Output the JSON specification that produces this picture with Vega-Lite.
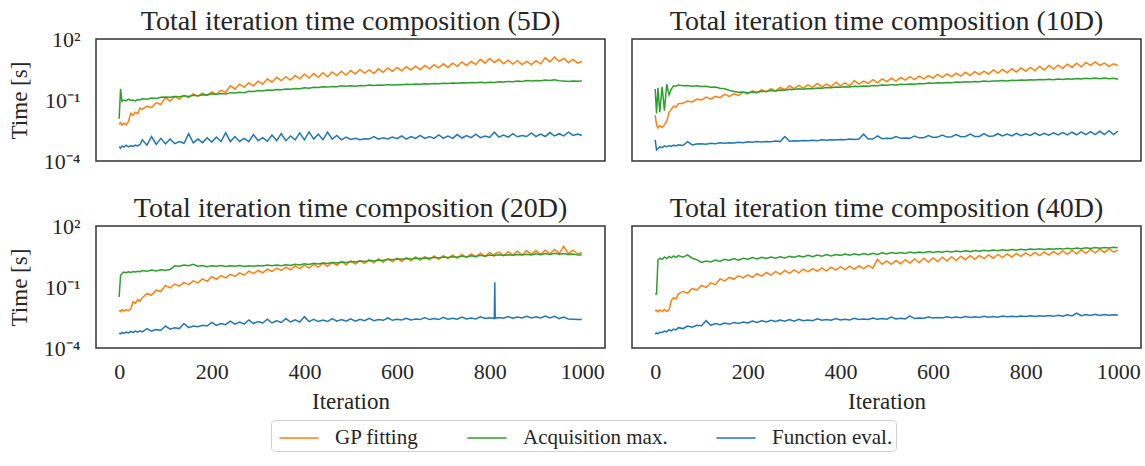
{
"$schema": "https://vega.github.io/schema/vega-lite/v6.json",
"background": "white",
"padding": {"left": 8, "top": 7, "right": 5, "bottom": 5},
"data": {"values": [
{"p":"5D","x":0,"g":0.0065,"a":0.012,"f":0.0005},
{"p":"5D","x":3,"g":0.0078,"a":0.35,"f":0.00042},
{"p":"5D","x":6,"g":0.0058,"a":0.085,"f":0.00055},
{"p":"5D","x":10,"g":0.0072,"a":0.1,"f":0.00048},
{"p":"5D","x":15,"g":0.0061,"a":0.09,"f":0.0006},
{"p":"5D","x":20,"g":0.0085,"a":0.11,"f":0.0005},
{"p":"5D","x":25,"g":0.022,"a":0.095,"f":0.00058},
{"p":"5D","x":30,"g":0.018,"a":0.1,"f":0.00052},
{"p":"5D","x":35,"g":0.025,"a":0.09,"f":0.0006},
{"p":"5D","x":40,"g":0.021,"a":0.105,"f":0.00055},
{"p":"5D","x":45,"g":0.04,"a":0.1,"f":0.00065},
{"p":"5D","x":50,"g":0.035,"a":0.115,"f":0.0011},
{"p":"5D","x":60,"g":0.05,"a":0.11,"f":0.0006},
{"p":"5D","x":70,"g":0.042,"a":0.125,"f":0.0016},
{"p":"5D","x":80,"g":0.075,"a":0.12,"f":0.00065},
{"p":"5D","x":90,"g":0.06,"a":0.135,"f":0.0013},
{"p":"5D","x":100,"g":0.13,"a":0.14,"f":0.0007},
{"p":"5D","x":110,"g":0.09,"a":0.135,"f":0.0012},
{"p":"5D","x":120,"g":0.15,"a":0.15,"f":0.00072},
{"p":"5D","x":130,"g":0.11,"a":0.145,"f":0.0009},
{"p":"5D","x":140,"g":0.17,"a":0.16,"f":0.00075},
{"p":"5D","x":150,"g":0.13,"a":0.15,"f":0.0022},
{"p":"5D","x":160,"g":0.2,"a":0.17,"f":0.00078},
{"p":"5D","x":170,"g":0.15,"a":0.16,"f":0.0012},
{"p":"5D","x":180,"g":0.22,"a":0.18,"f":0.0008},
{"p":"5D","x":190,"g":0.17,"a":0.175,"f":0.0014},
{"p":"5D","x":200,"g":0.25,"a":0.2,"f":0.00085},
{"p":"5D","x":210,"g":0.19,"a":0.19,"f":0.0015},
{"p":"5D","x":220,"g":0.3,"a":0.21,"f":0.0009},
{"p":"5D","x":230,"g":0.24,"a":0.2,"f":0.0025},
{"p":"5D","x":240,"g":0.5,"a":0.23,"f":0.0009},
{"p":"5D","x":250,"g":0.35,"a":0.22,"f":0.0016},
{"p":"5D","x":260,"g":0.6,"a":0.24,"f":0.00092},
{"p":"5D","x":270,"g":0.42,"a":0.23,"f":0.0013},
{"p":"5D","x":280,"g":0.7,"a":0.27,"f":0.0009},
{"p":"5D","x":290,"g":0.5,"a":0.26,"f":0.002},
{"p":"5D","x":300,"g":0.85,"a":0.29,"f":0.001},
{"p":"5D","x":310,"g":0.6,"a":0.28,"f":0.0014},
{"p":"5D","x":320,"g":1.1,"a":0.31,"f":0.00095},
{"p":"5D","x":330,"g":0.75,"a":0.3,"f":0.0019},
{"p":"5D","x":340,"g":1.3,"a":0.33,"f":0.001},
{"p":"5D","x":350,"g":0.9,"a":0.32,"f":0.0022},
{"p":"5D","x":360,"g":1.4,"a":0.35,"f":0.001},
{"p":"5D","x":370,"g":0.95,"a":0.34,"f":0.0017},
{"p":"5D","x":380,"g":1.6,"a":0.37,"f":0.0011},
{"p":"5D","x":390,"g":1.1,"a":0.36,"f":0.0024},
{"p":"5D","x":400,"g":1.9,"a":0.4,"f":0.0011},
{"p":"5D","x":410,"g":1.2,"a":0.38,"f":0.0027},
{"p":"5D","x":420,"g":2.0,"a":0.42,"f":0.0012},
{"p":"5D","x":430,"g":1.3,"a":0.41,"f":0.0021},
{"p":"5D","x":440,"g":2.2,"a":0.45,"f":0.0011},
{"p":"5D","x":450,"g":1.4,"a":0.43,"f":0.0026},
{"p":"5D","x":460,"g":2.4,"a":0.46,"f":0.0012},
{"p":"5D","x":470,"g":1.6,"a":0.45,"f":0.0018},
{"p":"5D","x":480,"g":2.6,"a":0.5,"f":0.0011},
{"p":"5D","x":490,"g":1.7,"a":0.47,"f":0.0015},
{"p":"5D","x":500,"g":2.8,"a":0.5,"f":0.00115},
{"p":"5D","x":510,"g":1.9,"a":0.48,"f":0.0013},
{"p":"5D","x":520,"g":3.2,"a":0.52,"f":0.0011},
{"p":"5D","x":530,"g":2.1,"a":0.5,"f":0.00125},
{"p":"5D","x":540,"g":3.0,"a":0.54,"f":0.0012},
{"p":"5D","x":550,"g":2.0,"a":0.52,"f":0.0016},
{"p":"5D","x":560,"g":3.4,"a":0.55,"f":0.00118},
{"p":"5D","x":570,"g":2.3,"a":0.53,"f":0.0014},
{"p":"5D","x":580,"g":3.8,"a":0.57,"f":0.0012},
{"p":"5D","x":590,"g":2.6,"a":0.55,"f":0.0015},
{"p":"5D","x":600,"g":4.0,"a":0.57,"f":0.00125},
{"p":"5D","x":610,"g":2.7,"a":0.56,"f":0.0017},
{"p":"5D","x":620,"g":4.3,"a":0.6,"f":0.0012},
{"p":"5D","x":630,"g":3.0,"a":0.58,"f":0.0016},
{"p":"5D","x":640,"g":4.6,"a":0.62,"f":0.00128},
{"p":"5D","x":650,"g":3.1,"a":0.6,"f":0.0018},
{"p":"5D","x":660,"g":5.0,"a":0.63,"f":0.0013},
{"p":"5D","x":670,"g":3.4,"a":0.61,"f":0.0016},
{"p":"5D","x":680,"g":5.5,"a":0.65,"f":0.0013},
{"p":"5D","x":690,"g":3.8,"a":0.63,"f":0.0019},
{"p":"5D","x":700,"g":6.0,"a":0.66,"f":0.00132},
{"p":"5D","x":710,"g":4.0,"a":0.64,"f":0.0017},
{"p":"5D","x":720,"g":6.5,"a":0.68,"f":0.0013},
{"p":"5D","x":730,"g":4.5,"a":0.66,"f":0.002},
{"p":"5D","x":740,"g":7.5,"a":0.7,"f":0.00135},
{"p":"5D","x":750,"g":5.0,"a":0.68,"f":0.0018},
{"p":"5D","x":760,"g":8.0,"a":0.72,"f":0.0014},
{"p":"5D","x":770,"g":5.5,"a":0.7,"f":0.0021},
{"p":"5D","x":780,"g":10,"a":0.74,"f":0.0014},
{"p":"5D","x":790,"g":6.5,"a":0.71,"f":0.0017},
{"p":"5D","x":800,"g":11,"a":0.75,"f":0.00145},
{"p":"5D","x":810,"g":7,"a":0.73,"f":0.0026},
{"p":"5D","x":820,"g":10,"a":0.78,"f":0.0015},
{"p":"5D","x":830,"g":6,"a":0.76,"f":0.0019},
{"p":"5D","x":840,"g":9,"a":0.82,"f":0.0015},
{"p":"5D","x":850,"g":5.8,"a":0.8,"f":0.0022},
{"p":"5D","x":860,"g":8.5,"a":0.85,"f":0.00155},
{"p":"5D","x":870,"g":5.5,"a":0.82,"f":0.0018},
{"p":"5D","x":880,"g":8,"a":0.9,"f":0.0016},
{"p":"5D","x":890,"g":5.5,"a":0.86,"f":0.0024},
{"p":"5D","x":900,"g":8.5,"a":0.92,"f":0.0016},
{"p":"5D","x":910,"g":6,"a":0.88,"f":0.0021},
{"p":"5D","x":920,"g":12,"a":0.95,"f":0.0016},
{"p":"5D","x":930,"g":7.5,"a":0.9,"f":0.0025},
{"p":"5D","x":940,"g":13,"a":0.98,"f":0.0017},
{"p":"5D","x":950,"g":8,"a":0.88,"f":0.0022},
{"p":"5D","x":960,"g":11,"a":0.85,"f":0.0017},
{"p":"5D","x":970,"g":7,"a":0.82,"f":0.0026},
{"p":"5D","x":980,"g":10,"a":0.87,"f":0.0018},
{"p":"5D","x":990,"g":6.5,"a":0.83,"f":0.0021},
{"p":"5D","x":999,"g":8,"a":0.86,"f":0.0018},
{"p":"10D","x":0,"g":0.018,"a":0.35,"f":0.0011},
{"p":"10D","x":3,"g":0.006,"a":0.022,"f":0.00035},
{"p":"10D","x":6,"g":0.0042,"a":0.4,"f":0.0004},
{"p":"10D","x":10,"g":0.0055,"a":0.025,"f":0.0005},
{"p":"10D","x":15,"g":0.0045,"a":0.45,"f":0.00045},
{"p":"10D","x":20,"g":0.006,"a":0.03,"f":0.00055},
{"p":"10D","x":25,"g":0.009,"a":0.6,"f":0.0005},
{"p":"10D","x":30,"g":0.025,"a":0.18,"f":0.00058},
{"p":"10D","x":35,"g":0.035,"a":0.35,"f":0.00052},
{"p":"10D","x":40,"g":0.05,"a":0.5,"f":0.0006},
{"p":"10D","x":45,"g":0.045,"a":0.48,"f":0.00055},
{"p":"10D","x":50,"g":0.065,"a":0.55,"f":0.00062},
{"p":"10D","x":60,"g":0.07,"a":0.5,"f":0.00058},
{"p":"10D","x":70,"g":0.09,"a":0.52,"f":0.0009},
{"p":"10D","x":80,"g":0.08,"a":0.48,"f":0.00062},
{"p":"10D","x":90,"g":0.11,"a":0.5,"f":0.00068},
{"p":"10D","x":100,"g":0.1,"a":0.46,"f":0.0007},
{"p":"10D","x":110,"g":0.14,"a":0.47,"f":0.00066},
{"p":"10D","x":120,"g":0.11,"a":0.42,"f":0.00074},
{"p":"10D","x":130,"g":0.15,"a":0.43,"f":0.0007},
{"p":"10D","x":140,"g":0.13,"a":0.38,"f":0.00078},
{"p":"10D","x":150,"g":0.19,"a":0.36,"f":0.00074},
{"p":"10D","x":160,"g":0.15,"a":0.3,"f":0.0008},
{"p":"10D","x":170,"g":0.2,"a":0.26,"f":0.00076},
{"p":"10D","x":180,"g":0.17,"a":0.24,"f":0.00084},
{"p":"10D","x":190,"g":0.24,"a":0.25,"f":0.0008},
{"p":"10D","x":200,"g":0.2,"a":0.23,"f":0.00088},
{"p":"10D","x":210,"g":0.28,"a":0.25,"f":0.00084},
{"p":"10D","x":220,"g":0.22,"a":0.24,"f":0.0009},
{"p":"10D","x":230,"g":0.32,"a":0.27,"f":0.00086},
{"p":"10D","x":240,"g":0.25,"a":0.26,"f":0.00092},
{"p":"10D","x":250,"g":0.36,"a":0.29,"f":0.00088},
{"p":"10D","x":260,"g":0.28,"a":0.28,"f":0.00095},
{"p":"10D","x":270,"g":0.42,"a":0.31,"f":0.0009},
{"p":"10D","x":280,"g":0.32,"a":0.3,"f":0.0016},
{"p":"10D","x":290,"g":0.5,"a":0.34,"f":0.00094},
{"p":"10D","x":300,"g":0.36,"a":0.33,"f":0.001},
{"p":"10D","x":310,"g":0.52,"a":0.36,"f":0.00096},
{"p":"10D","x":320,"g":0.38,"a":0.34,"f":0.00102},
{"p":"10D","x":330,"g":0.55,"a":0.37,"f":0.00098},
{"p":"10D","x":340,"g":0.42,"a":0.36,"f":0.00105},
{"p":"10D","x":350,"g":0.65,"a":0.39,"f":0.001},
{"p":"10D","x":360,"g":0.44,"a":0.38,"f":0.0011},
{"p":"10D","x":370,"g":0.6,"a":0.41,"f":0.00104},
{"p":"10D","x":380,"g":0.45,"a":0.4,"f":0.0011},
{"p":"10D","x":390,"g":0.75,"a":0.43,"f":0.00108},
{"p":"10D","x":400,"g":0.5,"a":0.42,"f":0.00115},
{"p":"10D","x":410,"g":0.7,"a":0.45,"f":0.0011},
{"p":"10D","x":420,"g":0.5,"a":0.44,"f":0.0012},
{"p":"10D","x":430,"g":0.9,"a":0.47,"f":0.00114},
{"p":"10D","x":440,"g":0.6,"a":0.46,"f":0.0012},
{"p":"10D","x":450,"g":0.85,"a":0.49,"f":0.0021},
{"p":"10D","x":460,"g":0.65,"a":0.48,"f":0.00122},
{"p":"10D","x":470,"g":1.0,"a":0.51,"f":0.0012},
{"p":"10D","x":480,"g":0.7,"a":0.5,"f":0.0017},
{"p":"10D","x":490,"g":1.1,"a":0.54,"f":0.00125},
{"p":"10D","x":500,"g":0.8,"a":0.53,"f":0.0013},
{"p":"10D","x":510,"g":1.2,"a":0.57,"f":0.00128},
{"p":"10D","x":520,"g":0.85,"a":0.55,"f":0.0016},
{"p":"10D","x":530,"g":1.3,"a":0.59,"f":0.0013},
{"p":"10D","x":540,"g":0.95,"a":0.58,"f":0.00135},
{"p":"10D","x":550,"g":1.4,"a":0.62,"f":0.0013},
{"p":"10D","x":560,"g":1.0,"a":0.6,"f":0.0017},
{"p":"10D","x":570,"g":1.5,"a":0.65,"f":0.00138},
{"p":"10D","x":580,"g":1.1,"a":0.63,"f":0.0014},
{"p":"10D","x":590,"g":1.6,"a":0.68,"f":0.0018},
{"p":"10D","x":600,"g":1.2,"a":0.66,"f":0.00145},
{"p":"10D","x":610,"g":1.8,"a":0.7,"f":0.0015},
{"p":"10D","x":620,"g":1.3,"a":0.68,"f":0.0019},
{"p":"10D","x":630,"g":1.9,"a":0.73,"f":0.0015},
{"p":"10D","x":640,"g":1.4,"a":0.71,"f":0.00155},
{"p":"10D","x":650,"g":2.1,"a":0.76,"f":0.002},
{"p":"10D","x":660,"g":1.5,"a":0.74,"f":0.00155},
{"p":"10D","x":670,"g":2.3,"a":0.79,"f":0.0016},
{"p":"10D","x":680,"g":1.6,"a":0.77,"f":0.0021},
{"p":"10D","x":690,"g":2.5,"a":0.82,"f":0.0016},
{"p":"10D","x":700,"g":1.8,"a":0.8,"f":0.00162},
{"p":"10D","x":710,"g":2.6,"a":0.85,"f":0.0022},
{"p":"10D","x":720,"g":1.9,"a":0.82,"f":0.00165},
{"p":"10D","x":730,"g":3.0,"a":0.87,"f":0.0017},
{"p":"10D","x":740,"g":2.1,"a":0.85,"f":0.0022},
{"p":"10D","x":750,"g":3.2,"a":0.9,"f":0.0017},
{"p":"10D","x":760,"g":2.2,"a":0.87,"f":0.0021},
{"p":"10D","x":770,"g":3.5,"a":0.93,"f":0.00172},
{"p":"10D","x":780,"g":2.4,"a":0.9,"f":0.0023},
{"p":"10D","x":790,"g":3.8,"a":0.96,"f":0.00175},
{"p":"10D","x":800,"g":2.6,"a":0.93,"f":0.0022},
{"p":"10D","x":810,"g":4.0,"a":0.99,"f":0.0018},
{"p":"10D","x":820,"g":2.8,"a":0.96,"f":0.0024},
{"p":"10D","x":830,"g":4.5,"a":1.02,"f":0.0018},
{"p":"10D","x":840,"g":3.0,"a":0.98,"f":0.0023},
{"p":"10D","x":850,"g":5.0,"a":1.05,"f":0.00185},
{"p":"10D","x":860,"g":3.3,"a":1.0,"f":0.0024},
{"p":"10D","x":870,"g":5.2,"a":1.08,"f":0.0019},
{"p":"10D","x":880,"g":3.6,"a":1.03,"f":0.0025},
{"p":"10D","x":890,"g":5.8,"a":1.12,"f":0.0019},
{"p":"10D","x":900,"g":4.0,"a":1.06,"f":0.0026},
{"p":"10D","x":910,"g":6.5,"a":1.15,"f":0.00195},
{"p":"10D","x":920,"g":4.3,"a":1.08,"f":0.0027},
{"p":"10D","x":930,"g":7.0,"a":1.18,"f":0.002},
{"p":"10D","x":940,"g":5.0,"a":1.1,"f":0.0028},
{"p":"10D","x":950,"g":7.5,"a":1.2,"f":0.002},
{"p":"10D","x":960,"g":5.0,"a":1.12,"f":0.0029},
{"p":"10D","x":970,"g":6.5,"a":1.22,"f":0.002},
{"p":"10D","x":980,"g":4.5,"a":1.1,"f":0.0031},
{"p":"10D","x":990,"g":6.0,"a":1.18,"f":0.002},
{"p":"10D","x":999,"g":5.0,"a":1.05,"f":0.003},
{"p":"20D","x":0,"g":0.0072,"a":0.032,"f":0.00054},
{"p":"20D","x":3,"g":0.0062,"a":0.37,"f":0.0005},
{"p":"20D","x":6,"g":0.0075,"a":0.45,"f":0.00058},
{"p":"20D","x":10,"g":0.0065,"a":0.54,"f":0.00052},
{"p":"20D","x":15,"g":0.0078,"a":0.5,"f":0.0006},
{"p":"20D","x":20,"g":0.0068,"a":0.56,"f":0.00055},
{"p":"20D","x":25,"g":0.0082,"a":0.52,"f":0.00065},
{"p":"20D","x":30,"g":0.019,"a":0.58,"f":0.00058},
{"p":"20D","x":35,"g":0.016,"a":0.55,"f":0.00068},
{"p":"20D","x":40,"g":0.024,"a":0.6,"f":0.0006},
{"p":"20D","x":45,"g":0.02,"a":0.57,"f":0.0007},
{"p":"20D","x":50,"g":0.03,"a":0.65,"f":0.00062},
{"p":"20D","x":60,"g":0.047,"a":0.6,"f":0.0009},
{"p":"20D","x":70,"g":0.04,"a":0.68,"f":0.00068},
{"p":"20D","x":80,"g":0.07,"a":0.62,"f":0.0008},
{"p":"20D","x":90,"g":0.06,"a":0.7,"f":0.00075},
{"p":"20D","x":100,"g":0.12,"a":0.66,"f":0.0012},
{"p":"20D","x":110,"g":0.09,"a":0.72,"f":0.00085},
{"p":"20D","x":120,"g":0.14,"a":1.1,"f":0.001},
{"p":"20D","x":130,"g":0.11,"a":1.05,"f":0.0009},
{"p":"20D","x":140,"g":0.17,"a":1.2,"f":0.0016},
{"p":"20D","x":150,"g":0.13,"a":1.1,"f":0.001},
{"p":"20D","x":160,"g":0.2,"a":1.3,"f":0.0012},
{"p":"20D","x":170,"g":0.16,"a":1.05,"f":0.0011},
{"p":"20D","x":180,"g":0.25,"a":1.15,"f":0.0013},
{"p":"20D","x":190,"g":0.19,"a":1.0,"f":0.0012},
{"p":"20D","x":200,"g":0.32,"a":1.12,"f":0.0018},
{"p":"20D","x":210,"g":0.24,"a":1.05,"f":0.0013},
{"p":"20D","x":220,"g":0.36,"a":1.15,"f":0.0016},
{"p":"20D","x":230,"g":0.28,"a":1.02,"f":0.0014},
{"p":"20D","x":240,"g":0.42,"a":1.12,"f":0.0021},
{"p":"20D","x":250,"g":0.33,"a":1.05,"f":0.0015},
{"p":"20D","x":260,"g":0.5,"a":1.14,"f":0.0019},
{"p":"20D","x":270,"g":0.38,"a":1.02,"f":0.0015},
{"p":"20D","x":280,"g":0.6,"a":1.12,"f":0.0024},
{"p":"20D","x":290,"g":0.45,"a":1.05,"f":0.0016},
{"p":"20D","x":300,"g":0.65,"a":1.15,"f":0.002},
{"p":"20D","x":310,"g":0.5,"a":1.08,"f":0.0017},
{"p":"20D","x":320,"g":0.75,"a":1.2,"f":0.0026},
{"p":"20D","x":330,"g":0.58,"a":1.1,"f":0.0017},
{"p":"20D","x":340,"g":0.85,"a":1.22,"f":0.0022},
{"p":"20D","x":350,"g":0.65,"a":1.12,"f":0.0018},
{"p":"20D","x":360,"g":0.95,"a":1.25,"f":0.0028},
{"p":"20D","x":370,"g":0.7,"a":1.15,"f":0.0019},
{"p":"20D","x":380,"g":1.1,"a":1.3,"f":0.0024},
{"p":"20D","x":390,"g":0.8,"a":1.2,"f":0.0019},
{"p":"20D","x":400,"g":1.2,"a":1.38,"f":0.0035},
{"p":"20D","x":410,"g":0.85,"a":1.28,"f":0.002},
{"p":"20D","x":420,"g":1.3,"a":1.45,"f":0.0026},
{"p":"20D","x":430,"g":0.95,"a":1.35,"f":0.002},
{"p":"20D","x":440,"g":1.5,"a":1.52,"f":0.0024},
{"p":"20D","x":450,"g":1.05,"a":1.42,"f":0.002},
{"p":"20D","x":460,"g":1.6,"a":1.6,"f":0.0028},
{"p":"20D","x":470,"g":1.15,"a":1.5,"f":0.0021},
{"p":"20D","x":480,"g":1.8,"a":1.7,"f":0.0025},
{"p":"20D","x":490,"g":1.25,"a":1.6,"f":0.0021},
{"p":"20D","x":500,"g":1.9,"a":1.8,"f":0.0027},
{"p":"20D","x":510,"g":1.35,"a":1.7,"f":0.0021},
{"p":"20D","x":520,"g":2.0,"a":1.9,"f":0.0026},
{"p":"20D","x":530,"g":1.45,"a":1.8,"f":0.0022},
{"p":"20D","x":540,"g":2.2,"a":2.0,"f":0.0029},
{"p":"20D","x":550,"g":1.55,"a":1.9,"f":0.0022},
{"p":"20D","x":560,"g":2.4,"a":2.1,"f":0.0025},
{"p":"20D","x":570,"g":1.65,"a":2.0,"f":0.0023},
{"p":"20D","x":580,"g":2.5,"a":2.3,"f":0.003},
{"p":"20D","x":590,"g":1.75,"a":2.2,"f":0.0023},
{"p":"20D","x":600,"g":2.6,"a":2.4,"f":0.0026},
{"p":"20D","x":610,"g":1.85,"a":2.3,"f":0.0024},
{"p":"20D","x":620,"g":2.8,"a":2.5,"f":0.0029},
{"p":"20D","x":630,"g":1.95,"a":2.4,"f":0.0024},
{"p":"20D","x":640,"g":3.0,"a":2.6,"f":0.0027},
{"p":"20D","x":650,"g":2.05,"a":2.5,"f":0.0025},
{"p":"20D","x":660,"g":3.1,"a":2.7,"f":0.0031},
{"p":"20D","x":670,"g":2.2,"a":2.6,"f":0.0025},
{"p":"20D","x":680,"g":3.4,"a":2.9,"f":0.0028},
{"p":"20D","x":690,"g":2.3,"a":2.7,"f":0.0025},
{"p":"20D","x":700,"g":3.5,"a":3.0,"f":0.0032},
{"p":"20D","x":710,"g":2.5,"a":2.8,"f":0.0026},
{"p":"20D","x":720,"g":3.8,"a":3.1,"f":0.0029},
{"p":"20D","x":730,"g":2.6,"a":2.9,"f":0.0026},
{"p":"20D","x":740,"g":4.0,"a":3.3,"f":0.0033},
{"p":"20D","x":750,"g":2.8,"a":3.0,"f":0.0027},
{"p":"20D","x":760,"g":4.2,"a":3.4,"f":0.003},
{"p":"20D","x":770,"g":3.0,"a":3.2,"f":0.0027},
{"p":"20D","x":780,"g":4.6,"a":3.6,"f":0.0034},
{"p":"20D","x":790,"g":3.2,"a":3.3,"f":0.0028},
{"p":"20D","x":800,"g":5.0,"a":3.7,"f":0.0031},
{"p":"20D","x":810,"g":3.4,"a":3.5,"f":0.0028},
{"p":"20D","x":811,"g":4.2,"a":3.6,"f":0.17},
{"p":"20D","x":812,"g":4.4,"a":3.6,"f":0.0029},
{"p":"20D","x":820,"g":5.2,"a":3.8,"f":0.0032},
{"p":"20D","x":830,"g":3.5,"a":3.5,"f":0.0029},
{"p":"20D","x":840,"g":5.5,"a":3.9,"f":0.0035},
{"p":"20D","x":850,"g":3.7,"a":3.6,"f":0.0029},
{"p":"20D","x":860,"g":5.8,"a":4.0,"f":0.0033},
{"p":"20D","x":870,"g":3.8,"a":3.7,"f":0.003},
{"p":"20D","x":880,"g":6.0,"a":4.1,"f":0.0036},
{"p":"20D","x":890,"g":4.0,"a":3.8,"f":0.003},
{"p":"20D","x":900,"g":6.2,"a":4.3,"f":0.0034},
{"p":"20D","x":910,"g":4.0,"a":3.9,"f":0.003},
{"p":"20D","x":920,"g":6.5,"a":4.4,"f":0.0037},
{"p":"20D","x":930,"g":4.2,"a":4.0,"f":0.003},
{"p":"20D","x":940,"g":7.0,"a":4.5,"f":0.0036},
{"p":"20D","x":950,"g":4.5,"a":4.1,"f":0.0028},
{"p":"20D","x":960,"g":10,"a":4.4,"f":0.0033},
{"p":"20D","x":970,"g":4.3,"a":4.0,"f":0.0027},
{"p":"20D","x":980,"g":6.5,"a":4.2,"f":0.0026},
{"p":"20D","x":990,"g":4.2,"a":3.7,"f":0.0025},
{"p":"20D","x":999,"g":5.0,"a":3.9,"f":0.0025},
{"p":"40D","x":0,"g":0.0066,"a":0.046,"f":0.00048},
{"p":"40D","x":3,"g":0.0072,"a":0.045,"f":0.00055},
{"p":"40D","x":6,"g":0.006,"a":2.1,"f":0.0005},
{"p":"40D","x":10,"g":0.0075,"a":2.6,"f":0.0006},
{"p":"40D","x":15,"g":0.0063,"a":2.3,"f":0.00058},
{"p":"40D","x":20,"g":0.0078,"a":3.0,"f":0.00068},
{"p":"40D","x":25,"g":0.0064,"a":2.5,"f":0.00062},
{"p":"40D","x":30,"g":0.0076,"a":3.2,"f":0.0008},
{"p":"40D","x":35,"g":0.022,"a":2.7,"f":0.0007},
{"p":"40D","x":40,"g":0.03,"a":3.4,"f":0.00085},
{"p":"40D","x":45,"g":0.026,"a":2.8,"f":0.00078},
{"p":"40D","x":50,"g":0.045,"a":3.5,"f":0.001},
{"p":"40D","x":60,"g":0.062,"a":2.9,"f":0.0009},
{"p":"40D","x":70,"g":0.05,"a":3.8,"f":0.0012},
{"p":"40D","x":80,"g":0.085,"a":2.6,"f":0.00105},
{"p":"40D","x":90,"g":0.07,"a":2.2,"f":0.0013},
{"p":"40D","x":100,"g":0.12,"a":1.6,"f":0.00125},
{"p":"40D","x":110,"g":0.095,"a":1.9,"f":0.0022},
{"p":"40D","x":120,"g":0.16,"a":1.7,"f":0.0013},
{"p":"40D","x":130,"g":0.13,"a":2.1,"f":0.0016},
{"p":"40D","x":140,"g":0.25,"a":1.8,"f":0.0014},
{"p":"40D","x":150,"g":0.2,"a":2.3,"f":0.0017},
{"p":"40D","x":160,"g":0.3,"a":2.0,"f":0.0015},
{"p":"40D","x":170,"g":0.24,"a":2.5,"f":0.0018},
{"p":"40D","x":180,"g":0.36,"a":2.1,"f":0.0016},
{"p":"40D","x":190,"g":0.28,"a":2.6,"f":0.0019},
{"p":"40D","x":200,"g":0.4,"a":2.3,"f":0.0017},
{"p":"40D","x":210,"g":0.3,"a":2.8,"f":0.0021},
{"p":"40D","x":220,"g":0.45,"a":2.4,"f":0.0018},
{"p":"40D","x":230,"g":0.34,"a":2.9,"f":0.0022},
{"p":"40D","x":240,"g":0.52,"a":2.5,"f":0.0019},
{"p":"40D","x":250,"g":0.38,"a":3.0,"f":0.0023},
{"p":"40D","x":260,"g":0.58,"a":2.6,"f":0.002},
{"p":"40D","x":270,"g":0.42,"a":3.1,"f":0.0024},
{"p":"40D","x":280,"g":0.65,"a":2.7,"f":0.0021},
{"p":"40D","x":290,"g":0.47,"a":3.2,"f":0.0025},
{"p":"40D","x":300,"g":0.7,"a":2.9,"f":0.0021},
{"p":"40D","x":310,"g":0.5,"a":3.4,"f":0.0026},
{"p":"40D","x":320,"g":0.75,"a":3.0,"f":0.0022},
{"p":"40D","x":330,"g":0.55,"a":3.6,"f":0.0024},
{"p":"40D","x":340,"g":0.8,"a":3.1,"f":0.0022},
{"p":"40D","x":350,"g":0.6,"a":3.7,"f":0.0027},
{"p":"40D","x":360,"g":0.85,"a":3.3,"f":0.0023},
{"p":"40D","x":370,"g":0.62,"a":3.9,"f":0.0025},
{"p":"40D","x":380,"g":0.95,"a":3.4,"f":0.0023},
{"p":"40D","x":390,"g":0.68,"a":4.0,"f":0.0028},
{"p":"40D","x":400,"g":1.0,"a":3.6,"f":0.0024},
{"p":"40D","x":410,"g":0.72,"a":4.2,"f":0.0026},
{"p":"40D","x":420,"g":1.05,"a":3.7,"f":0.0024},
{"p":"40D","x":430,"g":0.75,"a":4.3,"f":0.0029},
{"p":"40D","x":440,"g":1.1,"a":3.8,"f":0.0025},
{"p":"40D","x":450,"g":0.8,"a":4.4,"f":0.0027},
{"p":"40D","x":460,"g":1.15,"a":3.9,"f":0.0025},
{"p":"40D","x":470,"g":0.85,"a":4.6,"f":0.003},
{"p":"40D","x":480,"g":2.3,"a":4.0,"f":0.0026},
{"p":"40D","x":490,"g":1.3,"a":4.8,"f":0.0028},
{"p":"40D","x":500,"g":1.9,"a":4.2,"f":0.0026},
{"p":"40D","x":510,"g":1.3,"a":4.9,"f":0.0033},
{"p":"40D","x":520,"g":2.0,"a":4.4,"f":0.0027},
{"p":"40D","x":530,"g":1.4,"a":5.0,"f":0.0029},
{"p":"40D","x":540,"g":2.2,"a":4.5,"f":0.0027},
{"p":"40D","x":550,"g":1.5,"a":5.2,"f":0.0038},
{"p":"40D","x":560,"g":2.4,"a":4.7,"f":0.0028},
{"p":"40D","x":570,"g":1.6,"a":5.3,"f":0.003},
{"p":"40D","x":580,"g":2.6,"a":4.8,"f":0.0029},
{"p":"40D","x":590,"g":1.7,"a":5.5,"f":0.0033},
{"p":"40D","x":600,"g":2.7,"a":5.0,"f":0.003},
{"p":"40D","x":610,"g":1.8,"a":5.6,"f":0.0032},
{"p":"40D","x":620,"g":2.9,"a":5.1,"f":0.003},
{"p":"40D","x":630,"g":1.9,"a":5.8,"f":0.0034},
{"p":"40D","x":640,"g":3.1,"a":5.3,"f":0.0031},
{"p":"40D","x":650,"g":2.0,"a":5.9,"f":0.0033},
{"p":"40D","x":660,"g":3.3,"a":5.4,"f":0.0031},
{"p":"40D","x":670,"g":2.2,"a":6.0,"f":0.0035},
{"p":"40D","x":680,"g":3.5,"a":5.5,"f":0.0032},
{"p":"40D","x":690,"g":2.3,"a":6.2,"f":0.0034},
{"p":"40D","x":700,"g":3.6,"a":5.7,"f":0.0032},
{"p":"40D","x":710,"g":2.5,"a":6.4,"f":0.0036},
{"p":"40D","x":720,"g":3.8,"a":5.9,"f":0.0033},
{"p":"40D","x":730,"g":2.6,"a":6.6,"f":0.0035},
{"p":"40D","x":740,"g":4.0,"a":6.1,"f":0.0033},
{"p":"40D","x":750,"g":2.8,"a":6.8,"f":0.0037},
{"p":"40D","x":760,"g":4.2,"a":6.3,"f":0.0034},
{"p":"40D","x":770,"g":3.0,"a":7.0,"f":0.0036},
{"p":"40D","x":780,"g":4.5,"a":6.5,"f":0.0034},
{"p":"40D","x":790,"g":3.2,"a":7.2,"f":0.0037},
{"p":"40D","x":800,"g":4.8,"a":6.7,"f":0.0035},
{"p":"40D","x":810,"g":3.4,"a":7.4,"f":0.0038},
{"p":"40D","x":820,"g":5.0,"a":6.9,"f":0.0035},
{"p":"40D","x":830,"g":3.5,"a":7.5,"f":0.0039},
{"p":"40D","x":840,"g":5.3,"a":7.0,"f":0.0036},
{"p":"40D","x":850,"g":3.7,"a":7.7,"f":0.004},
{"p":"40D","x":860,"g":5.6,"a":7.2,"f":0.0036},
{"p":"40D","x":870,"g":3.9,"a":7.9,"f":0.0041},
{"p":"40D","x":880,"g":6.0,"a":7.3,"f":0.0037},
{"p":"40D","x":890,"g":4.1,"a":8.1,"f":0.0043},
{"p":"40D","x":900,"g":6.3,"a":7.5,"f":0.0038},
{"p":"40D","x":910,"g":4.3,"a":8.3,"f":0.0052},
{"p":"40D","x":920,"g":6.6,"a":7.7,"f":0.0039},
{"p":"40D","x":930,"g":4.5,"a":8.5,"f":0.0044},
{"p":"40D","x":940,"g":7.0,"a":7.8,"f":0.004},
{"p":"40D","x":950,"g":4.8,"a":8.7,"f":0.0045},
{"p":"40D","x":960,"g":7.3,"a":8.0,"f":0.004},
{"p":"40D","x":970,"g":5.0,"a":8.8,"f":0.0044},
{"p":"40D","x":980,"g":7.5,"a":8.2,"f":0.0041},
{"p":"40D","x":990,"g":5.2,"a":9.0,"f":0.0043},
{"p":"40D","x":999,"g":6.5,"a":8.5,"f":0.0042}
]},
"transform": [{"fold": ["f", "g", "a"], "as": ["s", "t"]}],
"facet": {
  "field": "p", "type": "nominal", "sort": ["5D", "10D", "20D", "40D"],
  "header": {"title": null, "labelExpr": "'Total iteration time composition (' + datum.value + ')'", "labelFont": "Liberation Serif", "labelFontSize": 28, "labelColor": "#262626", "labelPadding": 3}
},
"columns": 2,
"spacing": {"column": 25, "row": 32},
"spec": {
  "width": 509,
  "height": 122,
  "mark": {"type": "line", "strokeWidth": 1.5, "clip": true},
  "encoding": {
    "x": {"field": "x", "type": "quantitative", "scale": {"domain": [-50, 1049], "nice": false, "zero": false},
      "axis": {"values": [0, 200, 400, 600, 800, 1000], "format": "d", "title": "Iteration", "labelPadding": 12, "titlePadding": 8}},
    "y": {"field": "t", "type": "quantitative", "scale": {"type": "log", "domain": [0.0001, 100], "nice": false},
      "axis": {"values": [0.0001, 0.1, 100], "title": "Time [s]", "labelPadding": 15, "titlePadding": 12,
        "labelExpr": "datum.value >= 10 ? '10²' : datum.value >= 0.01 ? '10⁻¹' : '10⁻⁴'"}},
    "color": {"field": "s", "type": "nominal",
      "scale": {"domain": ["g", "a", "f"], "range": ["#ff7f0e", "#2ca02c", "#1f77b4"]},
      "legend": {"title": null, "orient": "none", "legendX": 175, "legendY": 381, "direction": "horizontal",
        "labelExpr": "datum.label == 'g' ? 'GP fitting' : datum.label == 'a' ? 'Acquisition max.' : 'Function eval.'",
        "symbolType": "M-1.4,0H1.4", "symbolStrokeWidth": 1.5, "symbolSize": 784, "symbolOffset": 10,
        "labelFont": "Liberation Serif", "labelFontSize": 21, "labelColor": "#262626", "labelOffset": 21,
        "strokeColor": "#d0d0d0", "cornerRadius": 4, "padding": 3, "columnPadding": 43}}
  }
},
"config": {
  "view": {"stroke": "#333333", "strokeWidth": 1.5},
  "axis": {"domain": false, "ticks": false, "grid": false, "labelFont": "Liberation Serif", "labelFontSize": 22, "labelColor": "#262626",
    "titleFont": "Liberation Serif", "titleFontSize": 23, "titleFontWeight": "normal", "titleColor": "#262626"}
}
}
